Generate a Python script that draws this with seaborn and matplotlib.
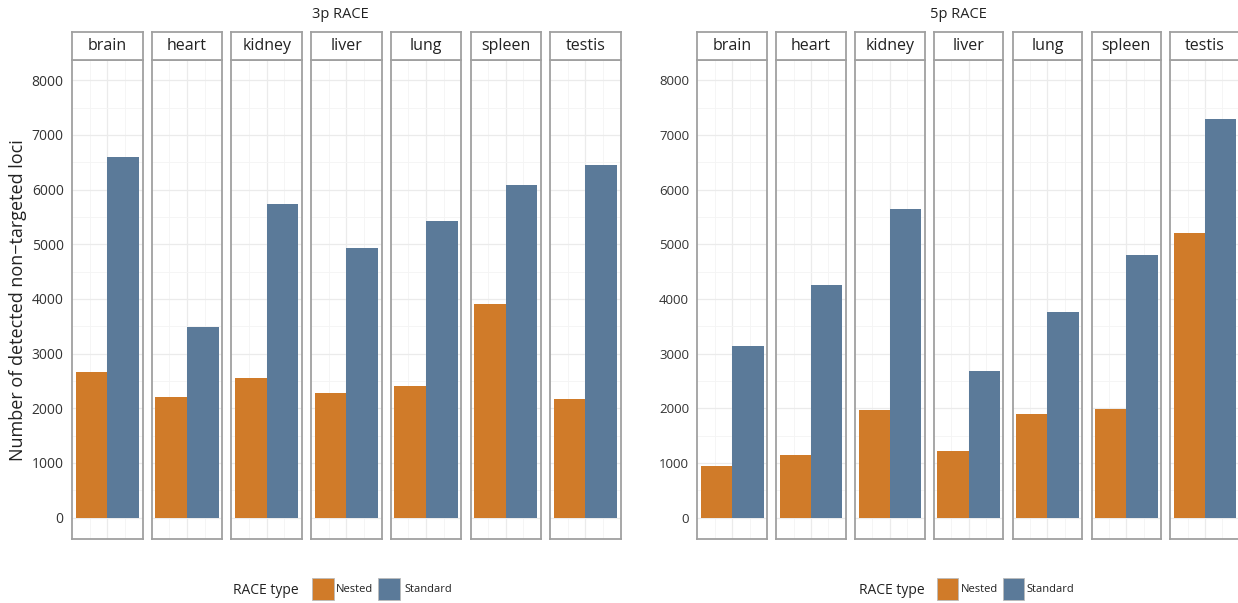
import numpy as np
import pandas as pd
import matplotlib
matplotlib.use("Agg")
import matplotlib.pyplot as plt
from matplotlib.patches import Rectangle
import seaborn as sns

sns.set_theme(style="white")
plt.rcParams["font.family"] = ["Open Sans", "DejaVu Sans"]

tissues = ["brain", "heart", "kidney", "liver", "lung", "spleen", "testis"]
race_types = ["Nested", "Standard"]

# detected non-targeted loci per tissue
nested_3p = [2660, 2210, 2560, 2280, 2410, 3910, 2170]
standard_3p = [6600, 3480, 5740, 4930, 5430, 6080, 6450]
nested_5p = [945, 1150, 1970, 1225, 1900, 1990, 5205]
standard_5p = [3135, 4255, 5650, 2685, 3765, 4810, 7290]

yticks = [0, 1000, 2000, 3000, 4000, 5000, 6000, 7000, 8000]
palette = {"Nested": "#D07B29", "Standard": "#5B7A99"}
frame_col = "#A0A0A0"

records = []
for panel, nv, sv in [("3p RACE", nested_3p, standard_3p), ("5p RACE", nested_5p, standard_5p)]:
    for t, n, s in zip(tissues, nv, sv):
        records.append((panel, t, "Nested", n))
        records.append((panel, t, "Standard", s))
df = pd.DataFrame(records, columns=["panel", "tissue", "RACE type", "loci"])

W, H = 1238, 603
fig = plt.figure(figsize=(W / 100, H / 100), dpi=100)


def fx(x):
    return x / W


def fy(y):
    return 1 - y / H


panels = [
    dict(name="3p RACE", x0=72, pitch=79.7, w=70.5, tick_fs=10, title_x=340),
    dict(name="5p RACE", x0=697.5, pitch=78.8, w=69.5, tick_fs=9.5, title_x=958),
]
ax_top, ax_bot = 60, 539
strip_top = 32

for p in panels:
    sub = df[df["panel"] == p["name"]]
    for i, t in enumerate(tissues):
        left = p["x0"] + i * p["pitch"]
        ax = fig.add_axes([fx(left), fy(ax_bot), fx(p["w"]), (ax_bot - ax_top) / H])
        d = sub[sub["tissue"] == t]
        sns.barplot(data=d, x="tissue", y="loci", hue="RACE type",
                    hue_order=race_types, palette=palette, width=0.9,
                    dodge=True, saturation=1, errorbar=None, legend=False,
                    linewidth=0, ax=ax)
        ax.set_xlim(-0.5, 0.5)
        ax.set_ylim(-390, 8370)
        ax.set_yticks(yticks)
        ax.set_yticks(np.arange(500, 8500, 1000), minor=True)
        ax.set_xticks([0])
        ax.set_xticks([-0.25, 0.25], minor=True)
        ax.grid(True, which="major", color="#EBEBEB", linewidth=0.9)
        ax.grid(True, which="minor", color="#F4F4F4", linewidth=0.6)
        ax.set_axisbelow(True)
        ax.set_xlabel("")
        ax.set_ylabel("")
        ax.tick_params(axis="both", which="both", length=0)
        ax.set_xticklabels([])
        if i == 0:
            ax.set_yticklabels([f"{v}" for v in yticks], fontsize=p["tick_fs"],
                               color="#333333")
            ax.tick_params(axis="y", pad=6)
        else:
            ax.set_yticklabels([])
        for s in ax.spines.values():
            s.set_color(frame_col)
            s.set_linewidth(1.3)
        # facet strip
        sax = fig.add_axes([fx(left), fy(ax_top), fx(p["w"]), (ax_top - strip_top) / H])
        sax.set_xticks([])
        sax.set_yticks([])
        sax.set_facecolor("white")
        for s in sax.spines.values():
            s.set_color(frame_col)
            s.set_linewidth(1.3)
        sax.text(0.5, 0.5, t, ha="center", va="center", fontsize=11.5,
                 color="#222222", transform=sax.transAxes)
    fig.text(fx(p["title_x"]), fy(14), p["name"], ha="center", va="center",
             fontsize=10.5, color="#222222")

fig.text(fx(18), fy(300), "Number of detected non\u2212targeted loci", rotation=90,
         ha="center", va="center", fontsize=13, color="#222222")

# legends under each panel
legends = [
    dict(title_x=266, boxes=[312, 378], labels=[335, 403], box_w=22),
    dict(title_x=892, boxes=[937, 1003], labels=[960, 1025], box_w=21),
]
for lg in legends:
    fig.text(fx(lg["title_x"]), fy(590), "RACE type", ha="center", va="center",
             fontsize=10, color="#222222")
    for rt, bx, lx in zip(race_types, lg["boxes"], lg["labels"]):
        fig.patches.append(Rectangle((fx(bx), fy(600)), fx(lg["box_w"]), 22 / H,
                                     transform=fig.transFigure, facecolor=palette[rt],
                                     edgecolor="#BBBBBB", linewidth=0.6))
        fig.text(fx(lx + 1), fy(590), rt, ha="left", va="center", fontsize=8,
                 color="#222222")

fig.savefig("out.png", dpi=100)
